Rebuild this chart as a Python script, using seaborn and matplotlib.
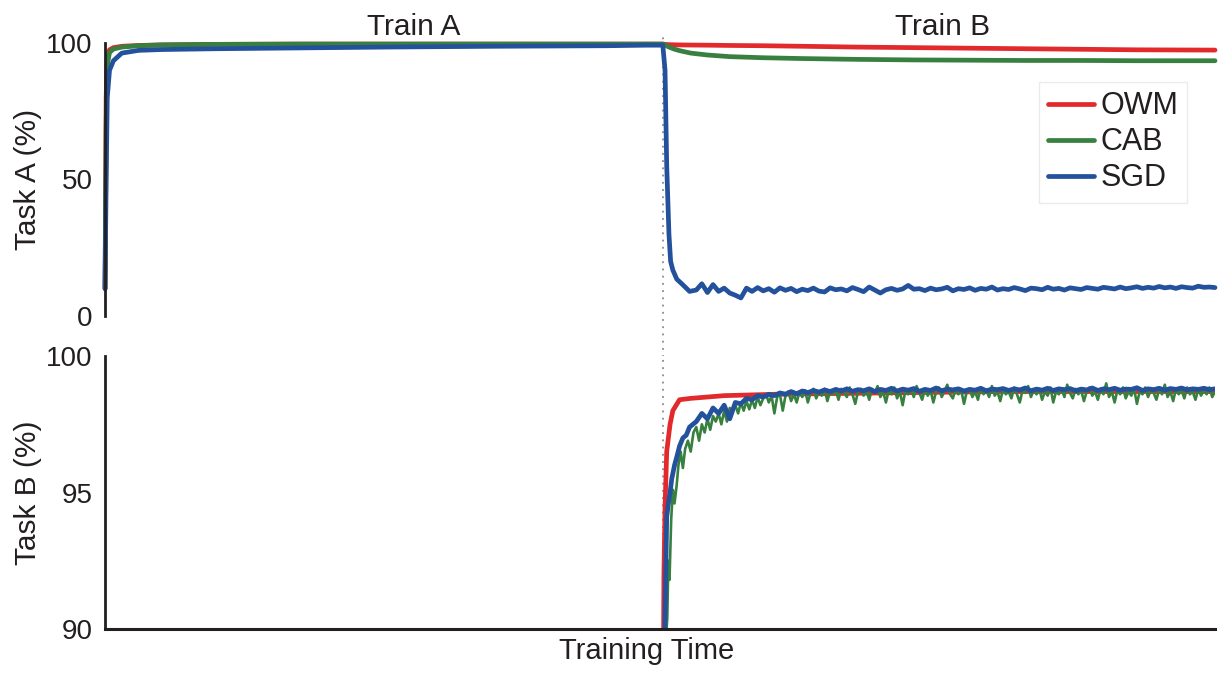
import numpy as np
import pandas as pd
import seaborn as sns
import matplotlib.pyplot as plt

# ---- data (training time: 0-1 = Train A, 1-1.99 = Train B) ----
methods = ["OWM", "CAB", "SGD"]
palette = {"OWM": "#e2292b", "CAB": "#37803f", "SGD": "#23519c"}

# Task A accuracy, smooth curves
top_time = [0, 0.002, 0.004, 0.008, 0.015, 0.03, 0.06, 0.1, 0.2, 0.35, 0.5, 0.7, 0.9, 1.0,
            1.005, 1.01, 1.02, 1.03, 1.05, 1.08, 1.12, 1.18, 1.25, 1.35, 1.45, 1.55, 1.65,
            1.75, 1.85, 1.99]
owm_task_a = [10, 80, 95, 97.5, 98.3, 98.8, 99.1, 99.3, 99.5, 99.6, 99.6, 99.6, 99.6, 99.6,
              99.5, 99.4, 99.35, 99.3, 99.25, 99.2, 99.1, 99.0, 98.8, 98.5, 98.3, 98.1, 97.9,
              97.7, 97.5, 97.4]
cab_task_a = [10, 70, 92, 96.5, 97.8, 98.5, 99.0, 99.3, 99.5, 99.6, 99.6, 99.6, 99.6, 99.6,
              99.2, 98.6, 97.8, 97.2, 96.3, 95.6, 95.0, 94.6, 94.3, 94.0, 93.8, 93.7, 93.6,
              93.6, 93.5, 93.5]

# Task A accuracy for SGD (forgets after the switch)
sgd_a_head_time = [0, 0.002, 0.004, 0.008, 0.015, 0.03, 0.06, 0.1, 0.2, 0.35, 0.5, 0.7, 0.9,
                   0.97, 1.0, 1.004, 1.007, 1.011, 1.014, 1.018, 1.025, 1.036, 1.048]
sgd_a_head = [10, 50, 80, 90, 93.5, 96.3, 97.3, 97.6, 97.9, 98.2, 98.5, 98.8, 99.0,
              99.2, 99.2, 90, 55, 30, 20, 16.8, 13.5, 11.4, 9.0]
sgd_a_tail = [9.5, 11.8, 8.6, 11.5, 9.0, 10.2, 8.4, 7.6, 6.6, 10.2,
              9.0, 10.4, 9.2, 10.0, 8.7, 10.3, 9.4, 10.1, 8.9, 9.8,
              9.3, 10.2, 9.1, 8.8, 10.3, 9.6, 9.9, 9.2, 10.4, 9.7,
              8.9, 10.6, 9.5, 8.4, 9.6, 10.1, 9.4, 9.9, 11.2, 9.8,
              10.0, 9.3, 10.2, 9.6, 9.9, 10.5, 9.2, 10.0, 9.7, 10.3,
              9.4, 10.1, 9.8, 10.6, 9.5, 10.0, 9.7, 10.4, 9.9, 9.3,
              10.2, 10.0, 9.6, 10.5, 9.8, 10.1, 9.5, 10.3, 10.0, 9.7,
              10.4, 10.1, 9.8, 10.5, 10.2, 9.9, 10.6, 10.0, 10.3, 10.7,
              10.1, 10.5, 10.2, 10.8, 10.3, 10.6, 10.1, 10.7, 10.4, 10.2,
              10.9, 10.5, 10.6, 10.4]

# Task B accuracy (only during Train B)
owm_b_time = [1.0, 1.002, 1.004, 1.007, 1.013, 1.018, 1.03, 1.05, 1.11, 1.2, 1.4, 1.6, 1.99]
owm_task_b = [85, 92, 94.5, 96.5, 97.5, 98.0, 98.4, 98.45, 98.55, 98.6, 98.65, 98.7, 98.7]

sgd_b_head_time = [1.0, 1.004, 1.007, 1.01, 1.013, 1.016, 1.018, 1.021, 1.025, 1.03, 1.036,
                   1.042, 1.048, 1.054]
sgd_b_head = [85, 90.5, 94.1, 94.6, 95.0, 95.5, 95.7, 96.0, 96.3, 96.7, 97.0, 97.1, 97.4, 97.5]
sgd_b_tail = [97.6, 97.9, 97.7, 98.1, 97.9, 98.2, 97.7, 98.3, 98.25, 98.45,
              98.4, 98.55, 98.5, 98.6, 98.55, 98.65, 98.6, 98.7, 98.62, 98.72,
              98.66, 98.74, 98.68, 98.76, 98.7, 98.78, 98.72, 98.8, 98.71, 98.77,
              98.73, 98.8, 98.7, 98.78, 98.74, 98.82, 98.72, 98.79, 98.75, 98.81,
              98.71, 98.78, 98.74, 98.83, 98.73, 98.79, 98.76, 98.8, 98.72, 98.78,
              98.75, 98.82, 98.73, 98.79, 98.77, 98.81, 98.74, 98.8, 98.76, 98.83,
              98.73, 98.79, 98.75, 98.82, 98.74, 98.8, 98.77, 98.81, 98.73, 98.79,
              98.76, 98.83, 98.74, 98.8, 98.77, 98.82, 98.75, 98.79, 98.78, 98.84,
              98.74, 98.8, 98.77, 98.82, 98.75, 98.81, 98.78, 98.83, 98.76, 98.8,
              98.78, 98.82, 98.77, 98.8]

cab_b_head_time = [1.0, 1.005, 1.008, 1.01, 1.012, 1.015, 1.018, 1.021, 1.025, 1.028, 1.032,
                   1.036, 1.04, 1.045, 1.05, 1.055]
cab_b_head = [85, 89.5, 90.4, 92.5, 91.8, 94.0, 95.1, 94.6, 95.3, 96.0, 96.5, 95.9, 96.6,
              96.9, 96.5, 97.2]
cab_b_tail = [97.4, 96.9, 97.5, 97.2, 97.7, 97.3, 97.8, 97.6, 97.9, 97.5,
              98.0, 97.6, 98.1, 97.95, 98.2, 97.9, 98.3, 98.0, 98.35, 98.05,
              98.4, 98.1, 98.5, 98.2, 98.45, 98.6, 98.3, 98.55, 97.9, 98.5,
              98.6, 98.0, 98.55, 98.7, 98.35, 98.6, 98.3, 98.7, 98.5, 98.75,
              98.3, 98.65, 98.8, 98.45, 98.7, 98.55, 98.8, 98.35, 98.7, 98.6,
              98.75, 98.4, 98.8, 98.65, 98.5, 98.85, 98.6, 98.25, 98.7, 98.8,
              98.55, 98.75, 98.4, 98.8, 98.65, 98.9, 98.5, 98.7, 98.3, 98.75,
              98.6, 98.85, 98.45, 98.7, 98.2, 98.75, 98.6, 98.8, 98.5, 98.9,
              98.65, 98.4, 98.8, 98.55, 98.75, 98.3, 98.7, 98.85, 98.5, 98.7,
              98.95, 98.6, 98.45, 98.8, 98.6, 98.75, 98.25, 98.7, 98.8, 98.5,
              98.7, 98.4, 98.85, 98.6, 98.75, 98.5, 98.9, 98.55, 98.7, 98.35,
              98.8, 98.6, 98.7, 98.45, 98.85, 98.6, 98.3, 98.75, 98.65, 98.9,
              98.5, 98.75, 98.6, 98.8, 98.4, 98.7, 98.55, 98.85, 98.3, 98.7,
              98.6, 98.8, 98.5, 98.95, 98.65, 98.45, 98.8, 98.6, 98.75, 98.35,
              98.7, 98.85, 98.55, 98.7, 98.4, 98.8, 98.6, 99.0, 98.5, 98.7,
              98.3, 98.75, 98.6, 98.85, 98.45, 98.7, 98.55, 98.8, 98.25, 98.7,
              98.6, 98.85, 98.5, 98.75, 98.65, 98.4, 98.8, 98.6, 98.95, 98.5,
              98.7, 98.35, 98.8, 98.6, 98.75, 98.45, 98.85, 98.6, 98.7, 98.4,
              98.8, 98.55, 98.75, 98.6, 98.85, 98.5, 98.7]

switch_time = 1.0
yticks_a = [0, 50, 100]
yticks_b = [90, 95, 100]

# ---- build series ----
def tail_time(vals):
    # evenly sampled steps over the rest of Train B
    return list(np.round(np.linspace(1.06, 1.99, len(vals)), 4))

top_series = {
    "OWM": (top_time, owm_task_a),
    "CAB": (top_time, cab_task_a),
    "SGD": (sgd_a_head_time + tail_time(sgd_a_tail), sgd_a_head + sgd_a_tail),
}
bottom_series = {
    "OWM": (owm_b_time, owm_task_b),
    "CAB": (cab_b_head_time + tail_time(cab_b_tail), cab_b_head + cab_b_tail),
    "SGD": (sgd_b_head_time + tail_time(sgd_b_tail), sgd_b_head + sgd_b_tail),
}

# ---- style ----
sns.set_style("white")
plt.rcParams["font.family"] = ["Liberation Sans", "DejaVu Sans"]
ink = "#231f20"

fig = plt.figure(figsize=(12.2, 6.75), dpi=100)
ax_a = fig.add_axes([0.0861, 0.5319, 0.9098, 0.4044])
ax_b = fig.add_axes([0.0861, 0.0681, 0.9098, 0.4044])

for m in methods:
    t, v = top_series[m]
    sns.lineplot(x=t, y=v, ax=ax_a, color=palette[m], linewidth=3.4, label=m,
                 estimator=None, legend=False, clip_on=False)
for m in methods:
    t, v = bottom_series[m]
    sns.lineplot(x=t, y=v, ax=ax_b, color=palette[m],
                 linewidth=1.9 if m == "CAB" else 3.4,
                 estimator=None, legend=False)

# switch marker
ax_a.axvline(switch_time, ymin=-0.15, ymax=1.04, color="#8a8a8a", lw=1.3,
             ls=(0, (1, 3)), clip_on=False, zorder=0)
ax_b.axvline(switch_time, ymin=0, ymax=1, color="#8a8a8a", lw=1.3,
             ls=(0, (1, 3)), zorder=0)

for ax, lims, ticks in [(ax_a, (0, 100), yticks_a), (ax_b, (90, 100), yticks_b)]:
    ax.set_xlim(0, 1.99)
    ax.set_ylim(*lims)
    ax.set_yticks(ticks)
    ax.set_xticks([])
    ax.tick_params(axis="y", direction="in", length=7, width=1.6, pad=9,
                   labelsize=20, colors=ink)
    for s in ["top", "right"]:
        ax.spines[s].set_visible(False)
    ax.spines["left"].set_linewidth(2)
    ax.spines["left"].set_color(ink)
    ax.grid(False)

ax_a.spines["bottom"].set_visible(False)
ax_b.spines["bottom"].set_linewidth(2.2)
ax_b.spines["bottom"].set_color(ink)

ax_a.set_ylabel("Task A (%)", fontsize=21.5, color=ink)
ax_b.set_ylabel("Task B (%)", fontsize=21.5, color=ink)
ax_a.yaxis.set_label_coords(-0.057, 0.5)
ax_b.yaxis.set_label_coords(-0.057, 0.5)
ax_b.set_xlabel("Training Time", fontsize=21, color=ink)
ax_b.xaxis.set_label_coords(0.488, -0.03)

ax_a.text(0.278, 1.03, "Train A", transform=ax_a.transAxes, ha="center",
          va="baseline", fontsize=21.5, color=ink)
ax_a.text(0.755, 1.03, "Train B", transform=ax_a.transAxes, ha="center",
          va="baseline", fontsize=21.5, color=ink)

leg = ax_a.legend(loc="upper right", bbox_to_anchor=(0.975, 0.857), borderaxespad=0,
                  fontsize=22, frameon=True, fancybox=False, borderpad=0.3,
                  handlelength=1.5, handletextpad=0.2, labelspacing=0.2)
leg.get_frame().set_edgecolor("#e6e6e6")
leg.get_frame().set_linewidth(1)
for txt in leg.get_texts():
    txt.set_color(ink)

fig.savefig("out.png", dpi=100)
